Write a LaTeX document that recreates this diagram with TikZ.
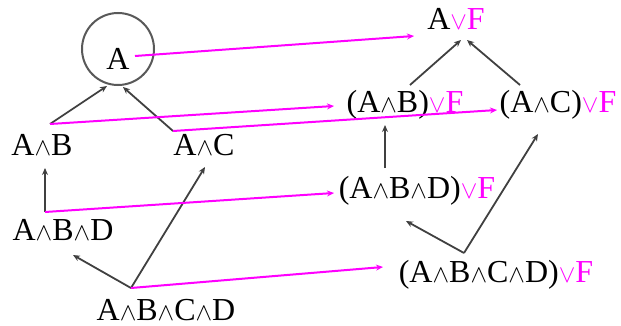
\documentclass[tikz,border=0pt]{standalone}
\usepackage{fontspec}
\setmainfont{Liberation Serif}
\usetikzlibrary{arrows.meta}
\definecolor{mag}{RGB}{255,0,255}
\newcommand{\wg}{{\fontsize{28}{28}\selectfont$\wedge$}}
\newcommand{\vF}{\textcolor{mag}{{\fontsize{28}{28}\selectfont$\vee$}F}}
\begin{document}
\begin{tikzpicture}[x=1pt,y=-1pt,
  lbl/.style={anchor=base,inner sep=0pt,font=\fontsize{32}{36}\selectfont},
  blk/.style={draw=black!75,line width=1.8pt,-{Stealth[length=7pt,width=6pt]}},
  mg/.style={draw=mag,line width=2pt,-{Stealth[length=7pt,width=6pt]}}]
\useasboundingbox (0,0) rectangle (621,326);
% left lattice
\node[draw=black!65,line width=2pt,circle,minimum size=72pt,inner sep=0pt] (circ) at (118,49) {};
\node[lbl] (A) at (118,70) {A};
\node[lbl] (AB) at (42,155) {A\wg B};
\node[lbl] (AC) at (204,155) {A\wg C};
\node[lbl] (ABD) at (63,240) {A\wg B\wg D};
\node[lbl] (ABCD) at (166,320) {A\wg B\wg C\wg D};
% right lattice
\node[lbl] (AF) at (456,30) {A\vF};
\node[lbl] (ABF) at (405,113) {(A\wg B)\vF};
\node[lbl] (ACF) at (558,113) {(A\wg C)\vF};
\node[lbl] (ABDF) at (417,198) {(A\wg B\wg D)\vF};
\node[lbl] (ABCDF) at (496,282) {(A\wg B\wg C\wg D)\vF};
% coordinates
\coordinate (cAl) at (107,86);
\coordinate (cAr) at (123,87);
\coordinate (cAm) at (135,56);
\coordinate (cAB) at (50,124);
\coordinate (cAC) at (173,131);
\coordinate (cABu) at (45,168);
\coordinate (cABD) at (45,212);
\coordinate (cABDu) at (73,255);
\coordinate (cACu) at (205,167);
\coordinate (cABCD) at (131,288);
\coordinate (dAFl) at (461,40);
\coordinate (dAFr) at (467,40);
\coordinate (dAFm) at (414,36);
\coordinate (dABF) at (410,85);
\coordinate (dACF) at (520,85);
\coordinate (dABFm) at (334,106);
\coordinate (dACFm) at (497,110);
\coordinate (dABFu) at (385,125);
\coordinate (dABDF) at (385,168);
\coordinate (dABDFm) at (334,193);
\coordinate (dACFu) at (538,134);
\coordinate (dABDFu) at (406,221);
\coordinate (dABCDF) at (464,253);
\coordinate (dABCDFm) at (383,267);
% black arrows
\draw[blk] (cAB) -- (cAl);
\draw[blk] (cAC) -- (cAr);
\draw[blk] (cABD) -- (cABu);
\draw[blk] (cABCD) -- (cABDu);
\draw[blk] (cABCD) -- (cACu);
\draw[blk] (dABF) -- (dAFl);
\draw[blk] (dACF) -- (dAFr);
\draw[blk] (dABDF) -- (dABFu);
\draw[blk] (dABCDF) -- (dABDFu);
\draw[blk] (dABCDF) -- (dACFu);
% magenta maps
\draw[mg] (cAm) -- (dAFm);
\draw[mg] (cAB) -- (dABFm);
\draw[mg] (cAC) -- (dACFm);
\draw[mg] (cABD) -- (dABDFm);
\draw[mg] (cABCD) -- (dABCDFm);
\end{tikzpicture}
\end{document}
